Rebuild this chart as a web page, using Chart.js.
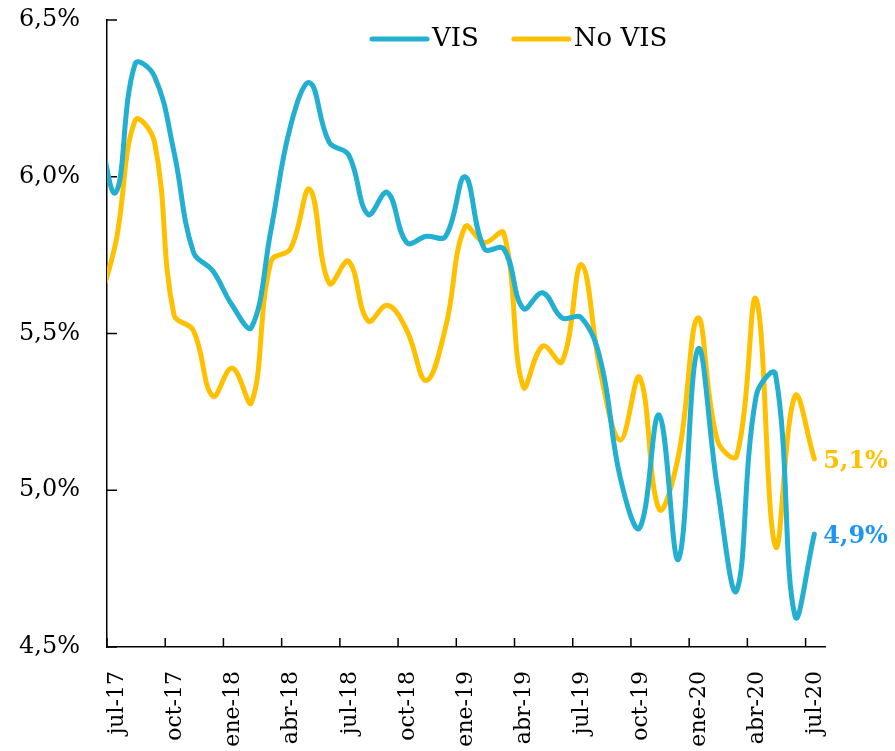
<!DOCTYPE html>
<html lang="es">
<head>
<meta charset="UTF-8">
<title>Tasas VIS y No VIS</title>
<script src="https://cdn.jsdelivr.net/npm/chart.js"></script>
<style>
  html, body { margin: 0; padding: 0; background: #fff; }
  canvas { display: block; }
</style>
</head>
<body>
<canvas id="grafico" width="895" height="751"></canvas>
<script>
// jun-17 queda fuera del eje: solo hace que la curva entre desde el borde
const meses = ['jun-17','jul-17','ago-17','sep-17','oct-17','nov-17','dic-17',
  'ene-18','feb-18','mar-18','abr-18','may-18','jun-18','jul-18','ago-18','sep-18','oct-18','nov-18','dic-18',
  'ene-19','feb-19','mar-19','abr-19','may-19','jun-19','jul-19','ago-19','sep-19','oct-19','nov-19','dic-19',
  'ene-20','feb-20','mar-20','abr-20','may-20','jun-20','jul-20'];

const vis = [6.20, 5.95, 6.36, 6.32, 6.08, 5.76, 5.70,
  5.59, 5.52, 5.83, 6.16, 6.30, 6.11, 6.07, 5.88, 5.95, 5.79, 5.81, 5.81,
  6.00, 5.77, 5.77, 5.58, 5.63, 5.55, 5.55, 5.41, 5.04, 4.88, 5.24, 4.78,
  5.45, 5.01, 4.68, 5.30, 5.37, 4.60, 4.86];

const noVis = [5.57, 5.79, 6.18, 6.11, 5.56, 5.51, 5.30,
  5.39, 5.28, 5.73, 5.77, 5.96, 5.66, 5.73, 5.54, 5.59, 5.51, 5.35, 5.52,
  5.84, 5.79, 5.82, 5.33, 5.46, 5.41, 5.72, 5.37, 5.16, 5.36, 4.94, 5.11,
  5.55, 5.16, 5.11, 5.61, 4.82, 5.30, 5.10];

const etiquetasX = ['jul-17','oct-17','ene-18','abr-18','jul-18','oct-18','ene-19',
  'abr-19','jul-19','oct-19','ene-20','abr-20','jul-20'];
const ticksY = [4.5, 5.0, 5.5, 6.0, 6.5];

const coloresLinea = ['#22AFD1', '#FFC000'];
const coloresEtiqueta = ['#1E96F0', '#FFC000'];
const fuente = "'DejaVu Serif', serif";

// cada dato va a mitad de su mes; el eje empieza el 1 de jul-17
const puntos = serie => serie.map((v, i) => ({ x: i - 0.55, y: v }));

const formato = v => v.toFixed(1).replace('.', ',') + '%';

// marcas de los ejes hacia adentro, como en Excel
const marcasInternas = {
  id: 'marcasInternas',
  beforeDatasetsDraw(chart) {
    const { ctx, chartArea, scales } = chart;
    ctx.save();
    ctx.strokeStyle = '#000';
    ctx.lineWidth = 1.5;
    ctx.beginPath();
    scales.x.ticks.forEach(t => {
      const px = scales.x.getPixelForValue(t.value);
      ctx.moveTo(px, chartArea.bottom);
      ctx.lineTo(px, chartArea.bottom - 9);
    });
    scales.y.ticks.forEach(t => {
      const py = scales.y.getPixelForValue(t.value);
      ctx.moveTo(chartArea.left, py);
      ctx.lineTo(chartArea.left + 10, py);
    });
    ctx.stroke();
    ctx.restore();
  }
};

const leyenda = {
  id: 'leyenda',
  afterDraw(chart) {
    const { ctx, chartArea } = chart;
    ctx.save();
    ctx.font = '26px ' + fuente;
    ctx.textBaseline = 'middle';
    ctx.fillStyle = '#000';
    let x = chartArea.left + 265;
    const y = 39;
    chart.data.datasets.forEach(ds => {
      ctx.strokeStyle = ds.borderColor;
      ctx.lineWidth = 5;
      ctx.lineCap = 'round';
      ctx.beginPath();
      ctx.moveTo(x, y);
      ctx.lineTo(x + 55, y);
      ctx.stroke();
      x += 60;
      ctx.fillText(ds.label, x, y);
      x += ctx.measureText(ds.label).width + 35;
    });
    ctx.restore();
  }
};

const etiquetasFinales = {
  id: 'etiquetasFinales',
  afterDatasetsDraw(chart) {
    const { ctx } = chart;
    ctx.save();
    ctx.font = 'bold 24px ' + fuente;
    ctx.textBaseline = 'middle';
    chart.data.datasets.forEach((ds, i) => {
      const meta = chart.getDatasetMeta(i);
      const ultimo = meta.data[meta.data.length - 1];
      const valor = ds.data[ds.data.length - 1].y;
      ctx.fillStyle = coloresEtiqueta[i];
      ctx.fillText(formato(valor), ultimo.x + 9, ultimo.y + 3);
    });
    ctx.restore();
  }
};

const linea = (label, serie, color) => ({
  label,
  data: puntos(serie),
  borderColor: color,
  borderWidth: 5,
  borderCapStyle: 'round',
  borderJoinStyle: 'round',
  pointRadius: 0,
  tension: 0.4,
  fill: false,
  clip: 0
});

new Chart(document.getElementById('grafico'), {
  type: 'line',
  data: {
    datasets: [
      linea('VIS', vis, coloresLinea[0]),
      linea('No VIS', noVis, coloresLinea[1])
    ]
  },
  options: {
    responsive: false,
    animation: false,
    layout: { padding: { top: 20, right: 70, left: 0, bottom: 0 } },
    plugins: {
      legend: { display: false },
      tooltip: { enabled: false }
    },
    scales: {
      x: {
        type: 'linear',
        min: 0,
        max: 37,
        afterFit: s => { s.height = 104; s.paddingLeft = 0; s.paddingRight = 0; },
        afterBuildTicks: s => { s.ticks = etiquetasX.map((_, k) => ({ value: k * 3 })); },
        grid: { display: false, drawTicks: false },
        border: { color: '#000', width: 1.5 },
        ticks: {
          autoSkip: false,
          minRotation: 90,
          maxRotation: 90,
          padding: 24,
          labelOffset: 10,
          color: '#000',
          font: { family: fuente, size: 22 },
          callback: v => etiquetasX[Math.round(v / 3)]
        }
      },
      y: {
        min: 4.5,
        max: 6.5,
        afterFit: s => { s.width = 107; s.paddingTop = 0; s.paddingBottom = 0; },
        afterBuildTicks: s => { s.ticks = ticksY.map(v => ({ value: v })); },
        grid: { display: false, drawTicks: false },
        border: { color: '#000', width: 1.5 },
        ticks: {
          padding: 27,
          color: '#000',
          font: { family: fuente, size: 24 },
          callback: v => formato(v)
        }
      }
    }
  },
  plugins: [marcasInternas, leyenda, etiquetasFinales]
});
</script>
</body>
</html>
